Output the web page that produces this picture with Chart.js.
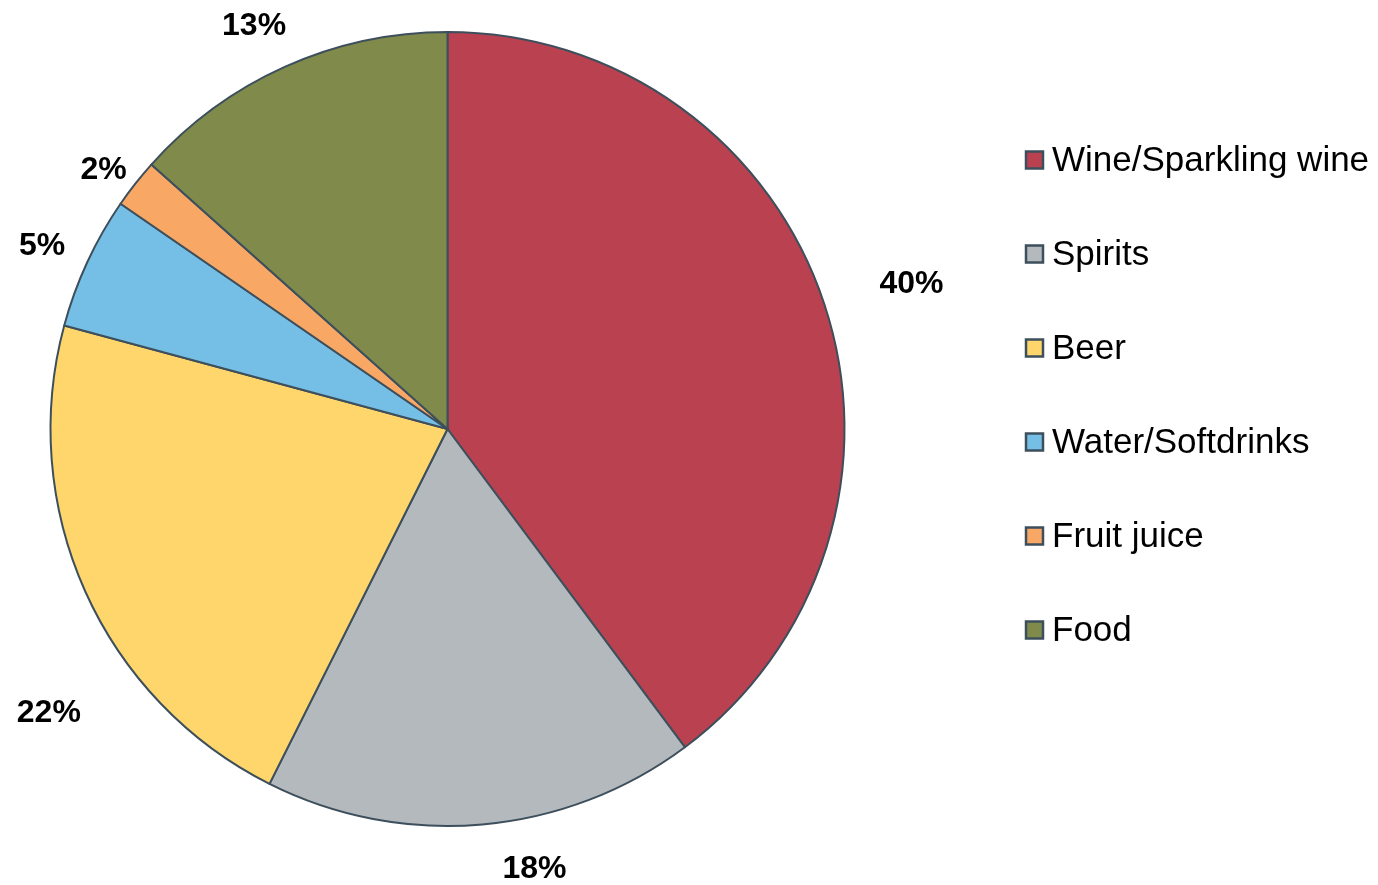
<!DOCTYPE html>
<html>
<head>
<meta charset="utf-8">
<script src="https://cdn.jsdelivr.net/npm/chart.js@4/dist/chart.umd.min.js"></script>
<style>
html,body{margin:0;padding:0;background:#fff;}
#wrap{width:1378px;height:885px;position:relative;}
</style>
</head>
<body>
<div id="wrap"><canvas id="c" width="1378" height="885"></canvas></div>
<script>
const categories = ["Wine/Sparkling wine", "Spirits", "Beer", "Water/Softdrinks", "Fruit juice", "Food"];
const shares = [39.8, 17.6, 21.8, 5.4, 2.0, 13.4];
const sliceColors = ["#BA4250", "#B3B9BD", "#FED66B", "#75BEE5", "#F9A764", "#7F8A4B"];

const borderCol = "#3D4F5C";

// label placement tweaks (degrees nudge, distance from centre in px)
const labelNudgeDeg = [0.7, -6.2, -11.1, -0.2, -0.9, -1.4];
const labelDist = [487, 446, 488, 446, 432, 449];

const pctLabels = {
  id: 'pctLabels',
  afterDatasetsDraw(chart) {
    const ctx = chart.ctx;
    const meta = chart.getDatasetMeta(0);
    const data = chart.data.datasets[0].data;
    const total = data.reduce((a, b) => a + b, 0);
    ctx.save();
    ctx.font = 'bold 32px "Liberation Sans", Arial, sans-serif';
    ctx.fillStyle = '#000';
    ctx.textAlign = 'center';
    ctx.textBaseline = 'alphabetic';
    meta.data.forEach((arc, i) => {
      const mid = (arc.startAngle + arc.endAngle) / 2 + labelNudgeDeg[i] * Math.PI / 180;
      const d = labelDist[i];
      const x = arc.x + d * Math.cos(mid);
      const y = arc.y + d * Math.sin(mid);
      const txt = Math.round(data[i] / total * 100) + '%';
      ctx.fillText(txt, x, y + 11.5);
    });
    ctx.restore();
  }
};

const sideLegend = {
  id: 'sideLegend',
  afterDraw(chart) {
    const ctx = chart.ctx;
    const labels = chart.data.labels;
    const colors = chart.data.datasets[0].backgroundColor;
    ctx.save();
    ctx.font = '35px "Liberation Sans", Arial, sans-serif';
    ctx.textBaseline = 'middle';
    ctx.textAlign = 'left';
    labels.forEach((lab, i) => {
      const cy = 160 + i * 94;
      ctx.fillStyle = colors[i];
      ctx.fillRect(1026, cy - 8.5, 17, 17);
      ctx.lineWidth = 2.5;
      ctx.strokeStyle = borderCol;
      ctx.strokeRect(1026, cy - 8.5, 17, 17);
      ctx.fillStyle = '#000';
      ctx.fillText(lab, 1052, cy + 1);
    });
    ctx.restore();
  }
};

new Chart(document.getElementById('c'), {
  type: 'pie',
  data: {
    labels: categories,
    datasets: [{
      data: shares,
      backgroundColor: sliceColors,
      borderColor: borderCol,
      borderWidth: 2,
      hoverOffset: 0,
      borderJoinStyle: 'round'
    }]
  },
  options: {
    responsive: false,
    animation: false,
    radius: 397,
    layout: { padding: { left: 30, right: 513, top: 20, bottom: 47 } },
    plugins: {
      legend: { display: false },
      tooltip: { enabled: false }
    }
  },
  plugins: [pctLabels, sideLegend]
});
</script>
</body>
</html>
